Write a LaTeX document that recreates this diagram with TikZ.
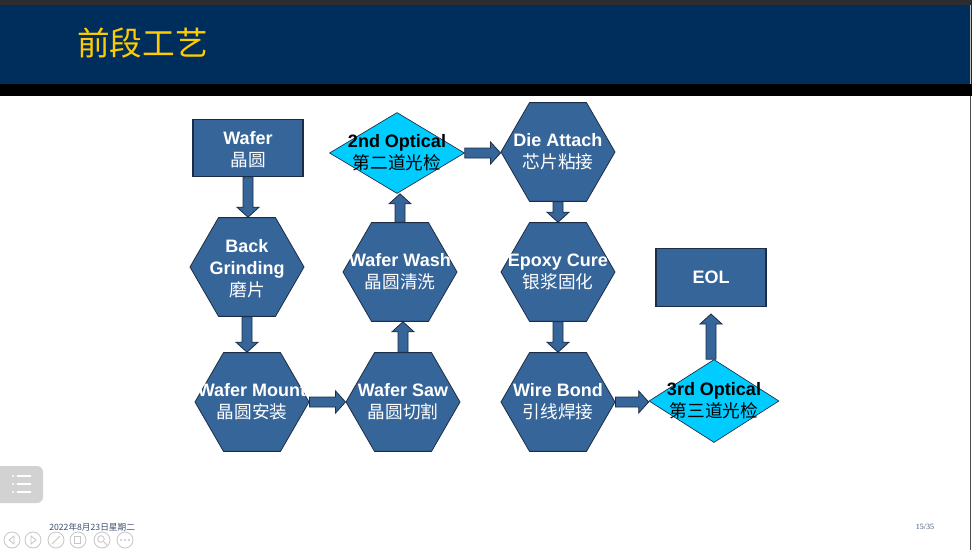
\documentclass[tikz,border=0pt]{standalone}
\usepackage{fontspec}
\setmainfont{Liberation Sans}
\newfontfamily\cjk{Noto Sans CJK SC}
\newfontfamily\seriffont{Liberation Serif}
\usetikzlibrary{shapes.geometric,calc}
\definecolor{navy}{RGB}{0,46,92}
\definecolor{boxblue}{RGB}{54,101,153}
\definecolor{edge}{RGB}{28,45,70}
\definecolor{cyanfill}{RGB}{0,204,255}
\definecolor{titleyellow}{RGB}{255,204,0}
\definecolor{topbar}{RGB}{43,45,48}
\definecolor{footblue}{RGB}{60,80,110}
\newcommand\zh[1]{{\cjk\mdseries\fontsize{13.25pt}{16.5pt}\selectfont #1}}
% block arrows: #1 start point, #2 end point
\newcommand\arrDown[2]{\draw[arr] let \p1=(#1), \p2=(#2) in
  (\x1-3.75pt,\y1) -- (\x1-3.75pt,\y2+7.5pt) -- (\x1-8.25pt,\y2+7.5pt) -- (\x1,\y2)
  -- (\x1+8.25pt,\y2+7.5pt) -- (\x1+3.75pt,\y2+7.5pt) -- (\x1+3.75pt,\y1) -- cycle;}
\newcommand\arrUp[2]{\draw[arr] let \p1=(#1), \p2=(#2) in
  (\x1-3.75pt,\y1) -- (\x1-3.75pt,\y2-7.5pt) -- (\x1-8.25pt,\y2-7.5pt) -- (\x1,\y2)
  -- (\x1+8.25pt,\y2-7.5pt) -- (\x1+3.75pt,\y2-7.5pt) -- (\x1+3.75pt,\y1) -- cycle;}
\newcommand\arrRight[2]{\draw[arr] let \p1=(#1), \p2=(#2) in
  (\x1,\y1-3.75pt) -- (\x2-7.5pt,\y1-3.75pt) -- (\x2-7.5pt,\y1-8.25pt) -- (\x2,\y1)
  -- (\x2-7.5pt,\y1+8.25pt) -- (\x2-7.5pt,\y1+3.75pt) -- (\x1,\y1+3.75pt) -- cycle;}
\begin{document}
\begin{tikzpicture}[x=0.75pt,y=-0.75pt,
  hexbox/.style={regular polygon, regular polygon sides=6, minimum size=85.5pt,
    inner sep=0pt, fill=boxblue, draw=edge, line width=0.6pt},
  rectbox/.style={rectangle, minimum width=82.5pt, minimum height=43pt,
    inner sep=0pt, fill=boxblue, draw=edge, line width=0.9pt},
  diabox/.style={diamond, inner sep=0pt, fill=cyanfill, draw=edge, line width=0.5pt},
  wlbl/.style={text=white, align=center, inner sep=0pt,
    font=\fontsize{13.5pt}{16.5pt}\selectfont\bfseries},
  blbl/.style={text=black, align=center, inner sep=0pt,
    font=\fontsize{13.5pt}{16.5pt}\selectfont\bfseries},
  arr/.style={fill=boxblue, draw=edge, line width=0.6pt},
  tool/.style={draw=gray!45, line width=0.6pt}]
\useasboundingbox (0,0) rectangle (972,550);
\fill[white] (0,0) rectangle (972,550);
% header
\fill[topbar] (0,0) rectangle (972,5);
\fill[navy] (0,5) rectangle (972,84);
\fill[black] (0,84) rectangle (972,96);
\node[anchor=west, text=titleyellow, inner sep=0pt,
  font=\cjk\fontsize{24.5pt}{28pt}\selectfont] (title) at (77,43) {前段工艺};
\draw[gray!50, line width=0.75pt] (970.5,5) -- (970.5,84);
\draw[gray!60!black, line width=0.75pt] (970.5,96) -- (970.5,550);

% shapes
\node[rectbox] (wafer) at (248,148) {};
\node[hexbox] (bg) at (247,267) {};
\node[hexbox] (mount) at (252,402) {};
\node[hexbox] (saw) at (403,402) {};
\node[hexbox] (wash) at (400,272) {};
\node[diabox, minimum width=101.25pt, minimum height=60.75pt] (opt2) at (397,153) {};
\node[hexbox] (die) at (558,152) {};
\node[hexbox] (epoxy) at (558,272) {};
\node[hexbox] (wire) at (558,402) {};
\node[diabox, minimum width=97.5pt, minimum height=62.25pt] (opt3) at (714,401) {};
\node[rectbox] (eol) at (711,277.5) {};
\coordinate (eolin) at (711,314);

% labels
\node[wlbl] (waferT) at ([yshift=-1pt]wafer) {Wafer\\\zh{晶圆}};
\node[wlbl] (bgT) at ([yshift=-1pt]bg) {Back\\Grinding\\\zh{磨片}};
\node[wlbl] (mountT) at (mount) {Wafer Mount\\\zh{晶圆安装}};
\node[wlbl] (sawT) at (saw) {Wafer Saw\\\zh{晶圆切割}};
\node[wlbl] (washT) at (wash) {Wafer Wash\\\zh{晶圆清洗}};
\node[blbl] (opt2T) at (opt2) {2nd Optical\\\zh{第二道光检}};
\node[wlbl] (dieT) at (die) {Die Attach\\\zh{芯片粘接}};
\node[wlbl] (epoxyT) at (epoxy) {Epoxy Cure\\\zh{银浆固化}};
\node[wlbl] (wireT) at (wire) {Wire Bond\\\zh{引线焊接}};
\node[blbl] (opt3T) at (opt3) {3rd Optical\\\zh{第三道光检}};
\node[wlbl] (eolT) at (eol) {EOL};

% arrows
\arrDown{wafer.south}{bg.north}
\arrDown{bg.south}{mount.north}
\arrRight{mount.east}{saw.west}
\arrUp{saw.north}{wash.south}
\arrUp{wash.north}{opt2.south}
\arrRight{opt2.east}{die.west}
\arrDown{die.south}{epoxy.north}
\arrDown{epoxy.south}{wire.north}
\arrRight{wire.east}{opt3.west}
\arrUp{opt3.north -| eolin}{eolin}

% footer
\node[anchor=west, inner sep=0pt, text=footblue,
  font=\cjk\fontsize{6.5pt}{8pt}\selectfont] (date) at (49,527) {2022年8月23日星期二};
\node[inner sep=0pt, text=footblue,
  font=\seriffont\fontsize{6pt}{7pt}\selectfont] (page) at (925,527) {15/35};

% side button
\fill[gray!35, rounded corners=4.5pt] (-6,466) rectangle (43,503);
\foreach \yy in {476,484,492}{
  \fill[white] (13,\yy) circle (0.9pt);
  \draw[white, line width=1.2pt] (17,\yy) -- (31,\yy);
}
% toolbar
\foreach \xx in {12,33,56,78,102,125}{\draw[tool] (\xx,540) circle (6pt);}
\draw[tool] (14,536) -- (9,540) -- (14,544) -- cycle;
\draw[tool] (31,536) -- (36,540) -- (31,544) -- cycle;
\draw[tool] (52,544) -- (60,536);
\draw[tool] (74,536) rectangle (80,543);
\draw[tool] (101,539) circle (2.5pt);
\draw[tool] (104,542) -- (107,545);
\foreach \xx in {121,125,129}{\fill[gray!45] (\xx,540) circle (0.8pt);}
\end{tikzpicture}
\end{document}
